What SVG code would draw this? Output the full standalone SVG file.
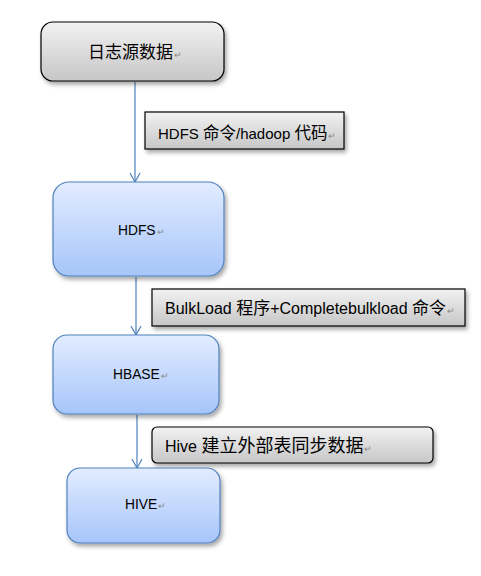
<svg xmlns="http://www.w3.org/2000/svg" width="481" height="576" viewBox="0 0 481 576">
<style>
text{font-family:"Liberation Sans","Noto Sans CJK SC",sans-serif;fill:#000}
.gray{fill:url(#gg);stroke:#000;stroke-width:1.2;filter:url(#sh)}
.blue{fill:url(#bg);stroke:#4f81bd;stroke-width:1.2;filter:url(#sh)}
.pm{fill:#8a8a8a;font-size:9px}
.nl{font-size:13.8px}
.conn{stroke:#4f81bd;stroke-width:1.2;fill:none;marker-end:url(#arr)}
</style>
<defs>
<linearGradient id="gg" x1="0" y1="0" x2="0" y2="1"><stop offset="0" stop-color="#f2f2f2"/><stop offset="1" stop-color="#c6c6c6"/></linearGradient>
<linearGradient id="bg" x1="0" y1="0" x2="0" y2="1"><stop offset="0" stop-color="#e2ecff"/><stop offset="1" stop-color="#a6c5fa"/></linearGradient>
<filter id="sh" x="-10%" y="-10%" width="130%" height="140%"><feDropShadow dx="2" dy="3" stdDeviation="2" flood-color="#000" flood-opacity="0.35"/></filter>
<marker id="arr" markerWidth="12" markerHeight="12" refX="10" refY="6" orient="auto" markerUnits="userSpaceOnUse"><path d="M1,1 L10,6 L1,11" fill="none" stroke="#4f81bd" stroke-width="1.2"/></marker>
</defs>
<g id="connectors">
<line class="conn" x1="135" y1="82" x2="135" y2="182"/>
<line class="conn" x1="136" y1="277" x2="136" y2="335"/>
<line class="conn" x1="137" y1="415" x2="137" y2="468"/>
</g>
<g id="n1"><rect class="gray" x="41" y="22" width="183" height="59" rx="12"/><text x="88" y="58" font-size="17">日志源数据<tspan class="pm" dx="1">↵</tspan></text></g>
<g id="l1"><rect class="gray" x="145" y="112" width="199" height="37"/><text x="158" y="139" font-size="15">HDFS <tspan font-size="16.5">命令</tspan>/hadoop <tspan font-size="16.5">代码</tspan><tspan class="pm" dx="1">↵</tspan></text></g>
<g id="n2"><rect class="blue" x="53" y="182" width="171" height="94" rx="16"/><text class="nl" x="118" y="235">HDFS<tspan class="pm" dx="1">↵</tspan></text></g>
<g id="l2"><rect class="gray" x="152" y="289" width="313" height="37"/><text x="165" y="314" font-size="16">BulkLoad <tspan font-size="17">程序</tspan>+Completebulkload <tspan font-size="17">命令</tspan><tspan class="pm" dx="1">↵</tspan></text></g>
<g id="n3"><rect class="blue" x="53" y="335" width="166" height="79" rx="14"/><text class="nl" x="113" y="379">HBASE<tspan class="pm" dx="1">↵</tspan></text></g>
<g id="l3"><rect class="gray" x="152" y="427" width="281" height="36" rx="5"/><text x="165" y="452" font-size="16">Hive <tspan font-size="18">建立外部表同步数据</tspan><tspan class="pm" dx="1">↵</tspan></text></g>
<g id="n4"><rect class="blue" x="67" y="468" width="153" height="75" rx="13"/><text class="nl" x="125" y="509">HIVE<tspan class="pm" dx="1">↵</tspan></text></g>
</svg>
